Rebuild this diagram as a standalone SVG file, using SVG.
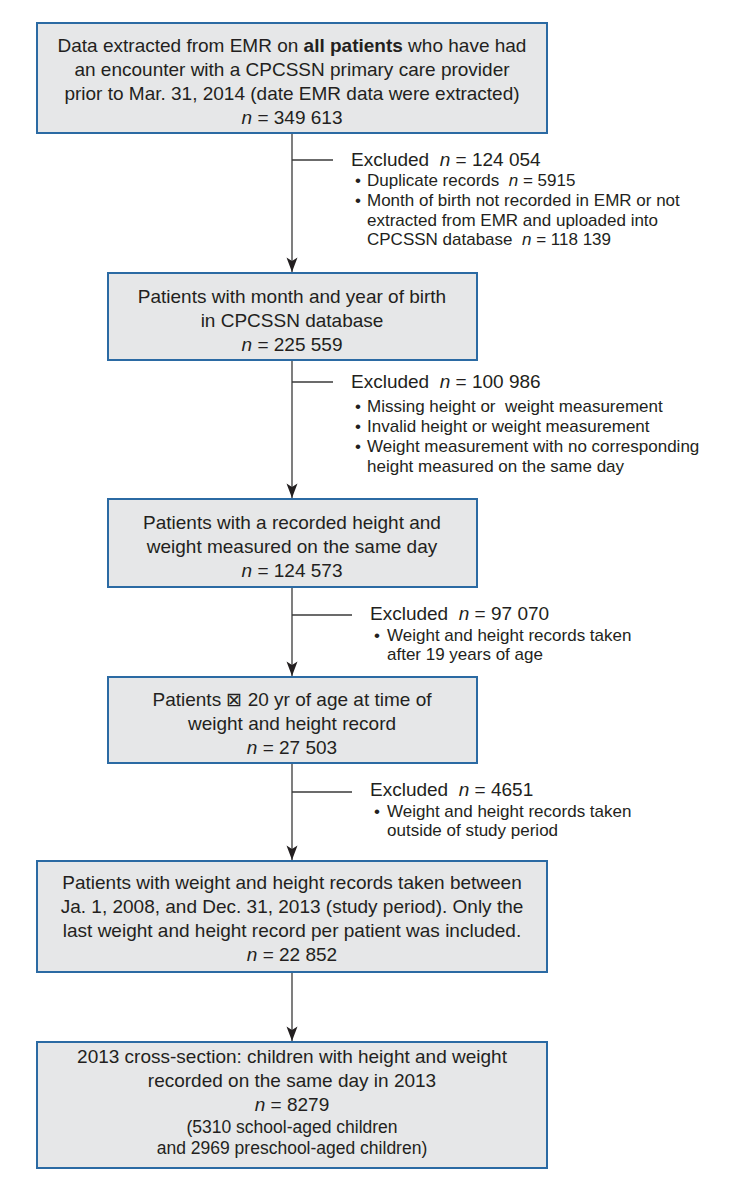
<svg xmlns="http://www.w3.org/2000/svg" width="730" height="1195" viewBox="0 0 730 1195">
<style>
.box{fill:#e6e7e8;stroke:#2b6aa3;stroke-width:2}
.t{font-family:"Liberation Sans",Arial,sans-serif;font-size:19px;fill:#231f20;text-anchor:middle}
.s{font-size:17.5px}
.e{font-family:"Liberation Sans",Arial,sans-serif;font-size:19px;fill:#231f20;white-space:pre}
.b{font-family:"Liberation Sans",Arial,sans-serif;font-size:17px;fill:#231f20;white-space:pre}
.ln{stroke:#3a3a3a;stroke-width:1.3;fill:none}
</style>
<defs>
<marker id="ah" markerWidth="16" markerHeight="12" refX="15" refY="6" orient="auto" markerUnits="userSpaceOnUse" viewBox="0 0 16 12">
<path d="M15,6 L0.5,0.5 L4,6 L0.5,11.5 Z" fill="#231f20"/>
</marker>
</defs>
<g id="connectors">
<line class="ln" x1="292" y1="134" x2="292" y2="272" marker-end="url(#ah)"/>
<line class="ln" x1="292" y1="160" x2="333" y2="160"/>
<line class="ln" x1="292" y1="361" x2="292" y2="498" marker-end="url(#ah)"/>
<line class="ln" x1="292" y1="382" x2="333" y2="382"/>
<line class="ln" x1="292" y1="588" x2="292" y2="676" marker-end="url(#ah)"/>
<line class="ln" x1="292" y1="615" x2="352" y2="615"/>
<line class="ln" x1="292" y1="764" x2="292" y2="860" marker-end="url(#ah)"/>
<line class="ln" x1="292" y1="792" x2="352" y2="792"/>
<line class="ln" x1="292" y1="973" x2="292" y2="1041" marker-end="url(#ah)"/>
</g>
<g id="node1">
<rect class="box" x="37" y="23" width="510" height="110"/>
<text class="t" x="292" y="51.5">Data extracted from EMR on <tspan font-weight="bold">all patients</tspan> who have had</text>
<text class="t" x="292" y="75.5">an encounter with a CPCSSN primary care provider</text>
<text class="t" x="292" y="99.5">prior to Mar. 31, 2014 (date EMR data were extracted)</text>
<text class="t" x="292" y="123.5"><tspan font-style="italic">n</tspan> = 349 613</text>
</g>
<g id="excl1">
<text class="e" x="351" y="166" xml:space="preserve">Excluded  <tspan font-style="italic">n</tspan> = 124 054</text>
<text class="b" x="355" y="186">•</text><text class="b" x="367" y="186" xml:space="preserve">Duplicate records  <tspan font-style="italic">n</tspan> = 5915</text>
<text class="b" x="355" y="206">•</text><text class="b" x="367" y="206">Month of birth not recorded in EMR or not</text>
<text class="b" x="367" y="226">extracted from EMR and uploaded into</text>
<text class="b" x="367" y="245" xml:space="preserve">CPCSSN database  <tspan font-style="italic">n</tspan> = 118 139</text>
</g>
<g id="node2">
<rect class="box" x="108" y="273" width="369" height="87"/>
<text class="t" x="292" y="302.5">Patients with month and year of birth</text>
<text class="t" x="292" y="326.5">in CPCSSN database</text>
<text class="t" x="292" y="350.5"><tspan font-style="italic">n</tspan> = 225 559</text>
</g>
<g id="excl2">
<text class="e" x="351" y="388" xml:space="preserve">Excluded  <tspan font-style="italic">n</tspan> = 100 986</text>
<text class="b" x="355" y="412">•</text><text class="b" x="367" y="412" xml:space="preserve">Missing height or  weight measurement</text>
<text class="b" x="355" y="432">•</text><text class="b" x="367" y="432">Invalid height or weight measurement</text>
<text class="b" x="355" y="452">•</text><text class="b" x="367" y="452">Weight measurement with no corresponding</text>
<text class="b" x="367" y="472">height measured on the same day</text>
</g>
<g id="node3">
<rect class="box" x="108" y="499" width="369" height="88"/>
<text class="t" x="292" y="528.5">Patients with a recorded height and</text>
<text class="t" x="292" y="552.5">weight measured on the same day</text>
<text class="t" x="292" y="576.5"><tspan font-style="italic">n</tspan> = 124 573</text>
</g>
<g id="excl3">
<text class="e" x="370" y="620" xml:space="preserve">Excluded  <tspan font-style="italic">n</tspan> = 97 070</text>
<text class="b" x="374" y="641">•</text><text class="b" x="387" y="641">Weight and height records taken</text>
<text class="b" x="387" y="660">after 19 years of age</text>
</g>
<g id="node4">
<rect class="box" x="108" y="677" width="369" height="86"/>
<text class="t" x="292" y="705.5">Patients ⊠ 20 yr of age at time of</text>
<text class="t" x="292" y="729.5">weight and height record</text>
<text class="t" x="292" y="753.5"><tspan font-style="italic">n</tspan> = 27 503</text>
</g>
<g id="excl4">
<text class="e" x="370" y="796" xml:space="preserve">Excluded  <tspan font-style="italic">n</tspan> = 4651</text>
<text class="b" x="374" y="817">•</text><text class="b" x="387" y="817">Weight and height records taken</text>
<text class="b" x="387" y="836">outside of study period</text>
</g>
<g id="node5">
<rect class="box" x="37" y="861" width="510" height="111"/>
<text class="t" x="292" y="888.5">Patients with weight and height records taken between</text>
<text class="t" x="292" y="913">Ja. 1, 2008, and Dec. 31, 2013 (study period). Only the</text>
<text class="t" x="292" y="937">last weight and height record per patient was included.</text>
<text class="t" x="292" y="961"><tspan font-style="italic">n</tspan> = 22 852</text>
</g>
<g id="node6">
<rect class="box" x="37" y="1042" width="510" height="126"/>
<text class="t" x="292" y="1063">2013 cross-section: children with height and weight</text>
<text class="t" x="292" y="1087">recorded on the same day in 2013</text>
<text class="t" x="292" y="1111"><tspan font-style="italic">n</tspan> = 8279</text>
<text class="t s" x="292" y="1133">(5310 school-aged children</text>
<text class="t s" x="292" y="1154">and 2969 preschool-aged children)</text>
</g>
</svg>
